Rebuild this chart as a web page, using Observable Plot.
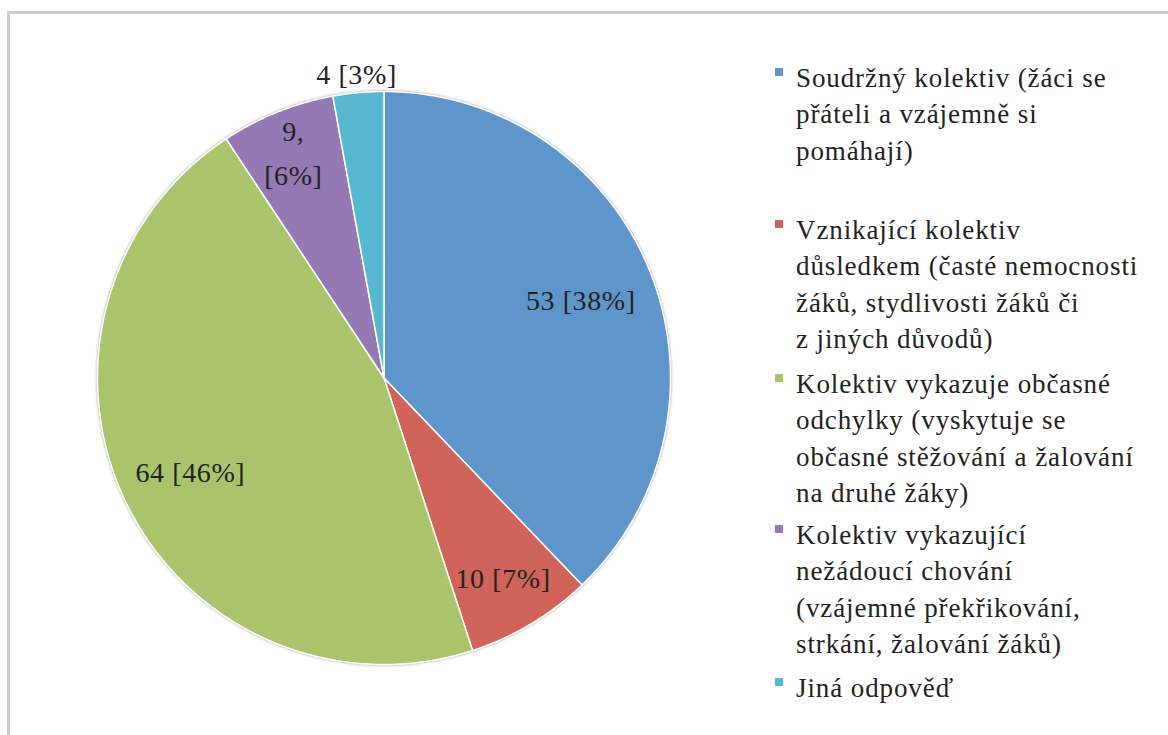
<!DOCTYPE html>
<html>
<head>
<meta charset="utf-8">
<script src="https://cdn.jsdelivr.net/npm/d3@7"></script>
<script src="https://cdn.jsdelivr.net/npm/@observablehq/plot@0.6"></script>
<style>
  html, body { margin: 0; padding: 0; background: #fff; }
  #root { position: relative; width: 1168px; height: 735px; overflow: hidden; background: #fff; }
  #frame { position: absolute; left: 7px; top: 11px; width: 1200px; height: 800px; border: 3px solid #cdcdcd; box-sizing: border-box; }
  #chart { position: absolute; left: 0; top: 0; }
  #chart svg [aria-label="geo"] { filter: drop-shadow(0 0 1.5px rgba(0,0,0,0.35)); }
  #chart svg [aria-label="text"] { letter-spacing: 0.6px; }
  .serif { font-family: "Liberation Serif", "Times New Roman", Times, Tinos, "DejaVu Serif", "Noto Serif", serif; }
  .leg-item { position: absolute; left: 796px; font-size: 27px; line-height: 36.5px; letter-spacing: 0.9px; color: #222; white-space: pre; }
  .leg-sw { position: absolute; width: 8px; height: 8px; }
</style>
</head>
<body>
<div id="root">
  <div id="frame"></div>
  <div id="chart"></div>
  <div id="legend"></div>
</div>
<script>
const categories = [
  "Soudržný kolektiv (žáci se\npřáteli a vzájemně si\npomáhají)",
  "Vznikající kolektiv\ndůsledkem (časté nemocnosti\nžáků, stydlivosti žáků či\nz jiných důvodů)",
  "Kolektiv vykazuje občasné\nodchylky (vyskytuje se\nobčasné stěžování a žalování\nna druhé žáky)",
  "Kolektiv vykazující\nnežádoucí chování\n(vzájemné překřikování,\nstrkání, žalování žáků)",
  "Jiná odpověď"
];
const values = [53, 10, 64, 9, 4];
const colors = ["#5e95ca", "#d0635a", "#a9c46b", "#9479b5", "#58b7d0"];
const labelBreak = [" ", " ", " ", ",\n", " "];

// layout (not data)
const labelRadius = [0.74, 0.81, 0.75, 0.85, 1.07];
const legendCenters = [78, 230, 384, 535, 688];
const serifFont = '"Liberation Serif", "Times New Roman", Times, Tinos, "DejaVu Serif", "Noto Serif", serif';

const total = d3.sum(values);
const arcs = d3.pie().sort(null).value(d => d)(values);

const features = arcs.map((p, i) => {
  const pts = [[0, 0]];
  const n = Math.max(4, Math.ceil((p.endAngle - p.startAngle) / (Math.PI / 360)));
  for (let k = 0; k <= n; k++) {
    const a = p.startAngle + (p.endAngle - p.startAngle) * k / n;
    pts.push([Math.sin(a), -Math.cos(a)]);
  }
  pts.push([0, 0]);
  return {type: "Feature", properties: {category: categories[i]}, geometry: {type: "Polygon", coordinates: [pts]}};
});

const labels = arcs.map((p, i) => {
  const mid = (p.startAngle + p.endAngle) / 2;
  const r = labelRadius[i];
  const pct = Math.round(values[i] / total * 100);
  return {x: r * Math.sin(mid), y: -r * Math.cos(mid), text: `${values[i]}${labelBreak[i]}[${pct}%]`};
});

const chart = Plot.plot({
  width: 760,
  height: 735,
  marginLeft: 97,
  marginRight: 90,
  marginTop: 91,
  marginBottom: 71,
  style: {background: "transparent", overflow: "visible"},
  projection: {type: "identity", clip: false, domain: {type: "MultiPoint", coordinates: [[-1, -1], [1, 1]]}},
  color: {domain: categories, range: colors},
  marks: [
    Plot.geo(features, {fill: d => d.properties.category, stroke: "#fff", strokeWidth: 1.5}),
    Plot.text(labels, {x: "x", y: "y", text: "text", fontSize: 28, fontFamily: serifFont, fill: "#222", lineAnchor: "middle", lineHeight: 1.55, dy: -3})
  ]
});
document.getElementById("chart").appendChild(chart);

const legend = document.getElementById("legend");
categories.forEach((c, i) => {
  const item = document.createElement("div");
  item.className = "leg-item serif";
  item.style.top = (legendCenters[i] - 18.25) + "px";
  item.textContent = c;
  legend.appendChild(item);
  const sw = document.createElement("div");
  sw.className = "leg-sw";
  sw.style.left = "775px";
  sw.style.top = (legendCenters[i] - 10) + "px";
  sw.style.background = colors[i];
  legend.appendChild(sw);
});
</script>
</body>
</html>
